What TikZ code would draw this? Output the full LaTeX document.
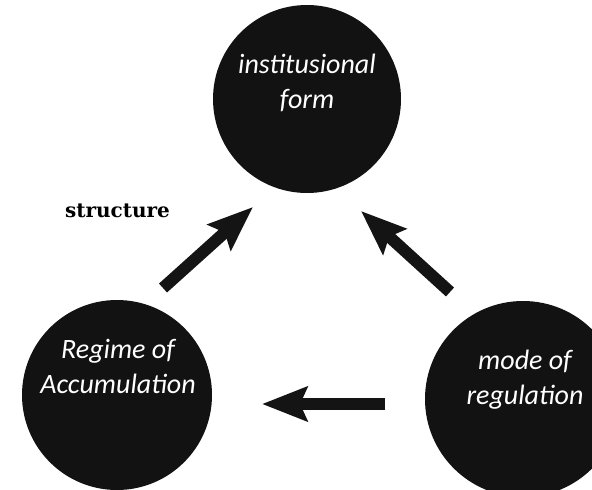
\documentclass[tikz,border=0pt]{standalone}
\usepackage{fontspec}
\setmainfont{Carlito}
\newfontfamily\labelfont{Carlito}
\newfontfamily\structfont{DejaVu Serif}
\usetikzlibrary{arrows.meta}
\begin{document}
\begin{tikzpicture}[x=1pt,y=-1pt,
  blob/.style={circle, fill=black!93, draw=none, inner sep=0pt},
  blobtext/.style={text=white, font=\labelfont\itshape\fontsize{28}{35}\selectfont, align=center, inner sep=0pt},
  bigarrow/.style={line width=12pt, draw=black!92, -{Stealth[length=45pt,width=34pt,inset=7pt]}},
  structlabel/.style={font=\structfont\bfseries\fontsize{20}{22}\selectfont, inner sep=0pt, anchor=base east}
]
\useasboundingbox (0,0) rectangle (592,490);
\clip (0,0) rectangle (592,490);
% circles
\node[blob, minimum size=188pt] (inst) at (307,99) {};
\node[blob, minimum size=190pt] (regime) at (117,395) {};
\node[blob, minimum size=196pt] (mode) at (523,399) {};
% texts
\node[blobtext] (insttext) at (307,83) {institusional\\form};
\node[blobtext] (regimetext) at (118,366) {Regime of\\Accumulation};
\node[blobtext] (modetext) at (525,380) {mode of\\regulation};
% label
\node[structlabel] (struct) at (170,217) {structure};
% arrow end points
\coordinate (la) at (163,288);
\coordinate (lb) at (253,207);
\coordinate (ra) at (450,292);
\coordinate (rb) at (361,211);
\coordinate (ba) at (385,404);
\coordinate (bb) at (262,404);
\draw[bigarrow] (la) -- (lb);
\draw[bigarrow] (ra) -- (rb);
\draw[bigarrow] (ba) -- (bb);
\end{tikzpicture}
\end{document}
